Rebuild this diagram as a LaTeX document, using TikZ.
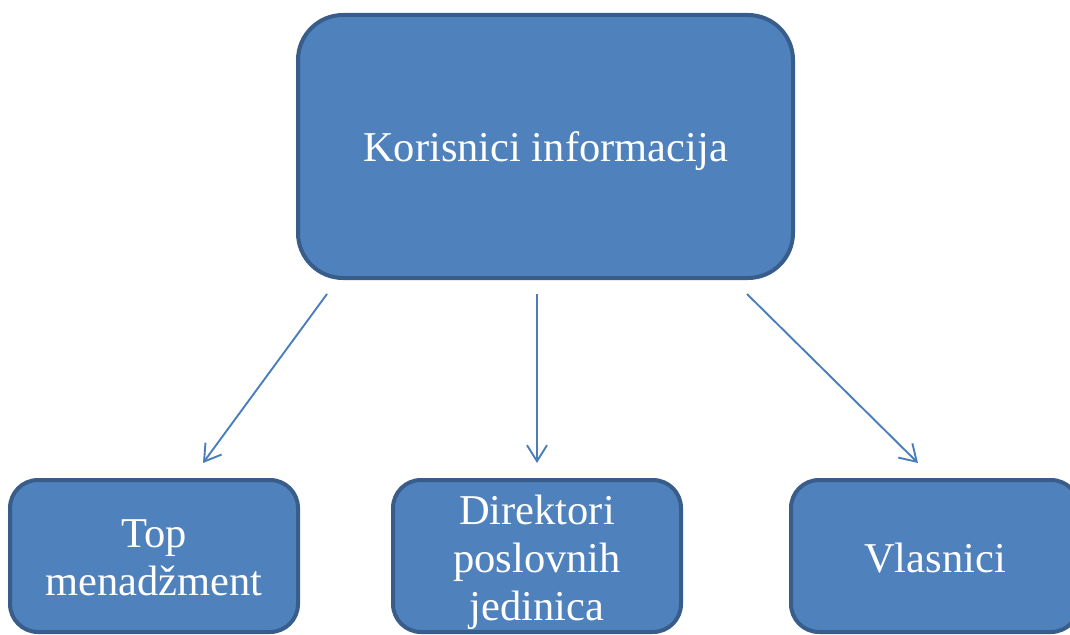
\documentclass[tikz,border=0pt]{standalone}
\usepackage{fontspec}
\setmainfont{Liberation Serif}
\usetikzlibrary{arrows.meta}
\definecolor{boxfill}{HTML}{4F81BD}
\definecolor{boxline}{HTML}{385D8A}
\definecolor{arrcol}{HTML}{4A7EBB}
\newcommand{\boxtext}[2]{\raisebox{0pt}[#1][0pt]{\begin{tabular}[b]{@{}c@{}}#2\end{tabular}}}
\tikzset{
  bigbox/.style={draw=boxline, fill=boxfill, line width=4pt, rounded corners=45pt,
    minimum width=495pt, minimum height=263pt, text=white, align=center,
    font=\fontsize{42.5pt}{48pt}\selectfont, inner sep=0pt},
  smallbox/.style={draw=boxline, fill=boxfill, line width=4pt, rounded corners=28pt,
    minimum width=288pt, minimum height=152pt, text=white, align=center,
    font=\fontsize{42.5pt}{48pt}\selectfont, inner sep=0pt},
  arr/.style={draw=arrcol, line width=1.9pt, -{Straight Barb[length=16pt,width=20pt,line width=1.9pt]}}
}
\begin{document}
\begin{tikzpicture}[x=1pt,y=-1pt]
\useasboundingbox (0,0) rectangle (1070,634);
\node[bigbox] (top) at (545.5,146.5) {\boxtext{29pt}{Korisnici informacija}};
\node[smallbox] (left) at (154,556) {\boxtext{79pt}{Top\\menadžment}};
\node[smallbox] (mid) at (537,556) {\boxtext{128pt}{Direktori\\poslovnih\\jedinica}};
\node[smallbox] (right) at (935,556) {\boxtext{32pt}{Vlasnici}};
\draw[arr] ([xshift=31pt,yshift=-14pt]top.south west) -- ([xshift=49pt,yshift=15pt]left.north);
\draw[arr] ([xshift=-8.5pt,yshift=-14pt]top.south) -- ([yshift=15pt]mid.north);
\draw[arr] ([xshift=-48pt,yshift=-14pt]top.south east) -- ([xshift=-17pt,yshift=15pt]right.north);
\end{tikzpicture}
\end{document}
